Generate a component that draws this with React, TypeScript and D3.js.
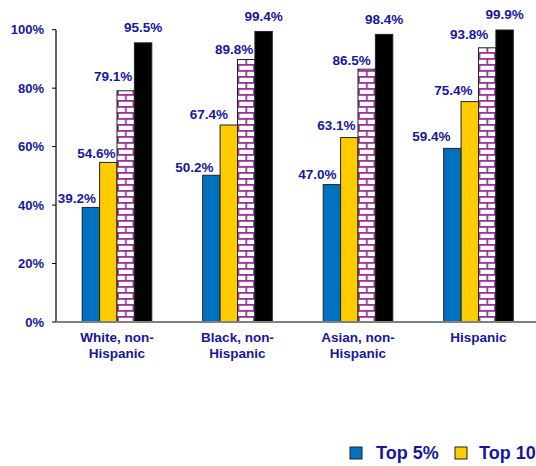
import React from "react";
import * as d3 from "d3";

const categories = ["White, non-Hispanic", "Black, non-Hispanic", "Asian, non-Hispanic", "Hispanic"];
const categoryLines = [["White, non-", "Hispanic"], ["Black, non-", "Hispanic"], ["Asian, non-", "Hispanic"], ["Hispanic"]];
const seriesNames = ["Top 5%", "Top 10%", "Top 25%", "Top 50%"];
const top5 = [39.2, 50.2, 47.0, 59.4];
const top10 = [54.6, 67.4, 63.1, 75.4];
const top25 = [79.1, 89.8, 86.5, 93.8];
const top50 = [95.5, 99.4, 98.4, 99.9];
const yTicks = [0, 20, 40, 60, 80, 100];

// label nudges relative to bar centre / top (series x category)
const labelDx = [
  [-14, -17, -14.5, -21],
  [-12, -20, -13, -16.5],
  [-12.5, -12, -15, -18],
  [0, 0, 0, 0],
];
const labelDy = [
  [-4.4, -3.3, -6, -7],
  [-4.4, -5.7, -7.7, -6.7],
  [-10, -6, -4.3, -8.7],
  [-11, -10.3, -10, -11],
];

const W = 536;
const H = 466;
const TEXT = "#17179E";
const FONT = "'Liberation Sans', Arial, sans-serif";
const fills = ["#0070C0", "#FFCC00", "url(#brick)", "#000000"];

export default function App() {
  const series = [top5, top10, top25, top50];
  const x0 = d3.scaleBand<string>().domain(categories).range([56.75, 538.75]).paddingInner(0).paddingOuter(0);
  const y = d3.scaleLinear().domain([0, 100]).range([322, 29.7]);
  const groupW = 69.6;
  const x1 = d3.scaleBand<string>().domain(seriesNames).range([0, groupW]);

  return (
    <svg width={W} height={H} style={{ position: "absolute", left: 0, top: 0, background: "#fff" }} fontFamily={FONT}>
      <defs>
        {categories.map((c, ci) => {
          const cx = (x0(c) as number) + x0.bandwidth() / 2 - groupW / 2 + (x1(seriesNames[2]) as number);
          return (
            <pattern key={c} id={ci === 0 ? "brick" : `brick${ci}`} patternUnits="userSpaceOnUse" width={17.4} height={12} x={cx} y={y(0)}>
              <rect width={17.4} height={12} fill="#fff" />
              <rect x={0} y={0} width={17.4} height={1.8} fill="#993399" />
              <rect x={0} y={6} width={17.4} height={1.8} fill="#993399" />
              <rect x={8} y={0} width={1.8} height={6} fill="#993399" />
              <rect x={0} y={6} width={1.8} height={6} fill="#993399" />
              <rect x={15.6} y={6} width={1.8} height={6} fill="#993399" />
            </pattern>
          );
        })}
      </defs>

      {/* y axis */}
      <line x1={56} x2={56} y1={y(100)} y2={y(0)} stroke="#000" strokeWidth={1.2} />
      {yTicks.map((t) => (
        <g key={t}>
          <line x1={52} x2={56} y1={y(t)} y2={y(t)} stroke="#000" strokeWidth={1} />
          <text x={44} y={y(t)} dy="0.35em" textAnchor="end" fontSize={13} fontWeight="bold" fill={TEXT}>
            {t}%
          </text>
        </g>
      ))}

      {/* bars */}
      {categories.map((c, ci) => {
        const gx = (x0(c) as number) + x0.bandwidth() / 2 - groupW / 2;
        return (
          <g key={c}>
            {series.map((s, si) => {
              const bx = gx + (x1(seriesNames[si]) as number);
              const bw = x1.bandwidth();
              const fill = si === 2 ? (ci === 0 ? "url(#brick)" : `url(#brick${ci})`) : fills[si];
              return (
                <rect key={si} x={bx} y={y(s[ci])} width={bw} height={y(0) - y(s[ci])} fill={fill} stroke="#222" strokeWidth={1} />
              );
            })}
          </g>
        );
      })}

      {/* x axis */}
      <line x1={56} x2={W} y1={322} y2={322} stroke="#808080" strokeWidth={2} />

      {/* value labels */}
      {categories.map((c, ci) => {
        const gx = (x0(c) as number) + x0.bandwidth() / 2 - groupW / 2;
        return series.map((s, si) => {
          const bx = gx + (x1(seriesNames[si]) as number) + x1.bandwidth() / 2;
          return (
            <text key={`${ci}-${si}`} x={bx + labelDx[si][ci]} y={y(s[ci]) + labelDy[si][ci]} textAnchor="middle" fontSize={13.5} fontWeight="bold" fill={TEXT}>
              {s[ci].toFixed(1)}%
            </text>
          );
        });
      })}

      {/* category labels */}
      {categories.map((c, ci) => {
        const cx = (x0(c) as number) + x0.bandwidth() / 2;
        return (
          <text key={c} textAnchor="middle" fontSize={13.5} fontWeight="bold" fill={TEXT}>
            {categoryLines[ci].map((line, li) => (
              <tspan key={li} x={cx} y={342 + li * 15.5}>
                {line}
              </tspan>
            ))}
          </text>
        );
      })}

      {/* legend */}
      {seriesNames.map((n, i) => (
        <g key={n} transform={`translate(${350 + i * 105},447)`}>
          <rect width={12} height={12} fill={i === 2 ? "url(#brick)" : fills[i]} stroke="#222" strokeWidth={1} />
          <text x={i === 0 ? 26 : 24} y={12} fontSize={18} fontWeight="bold" fill={TEXT}>
            {n}
          </text>
        </g>
      ))}
    </svg>
  );
}
